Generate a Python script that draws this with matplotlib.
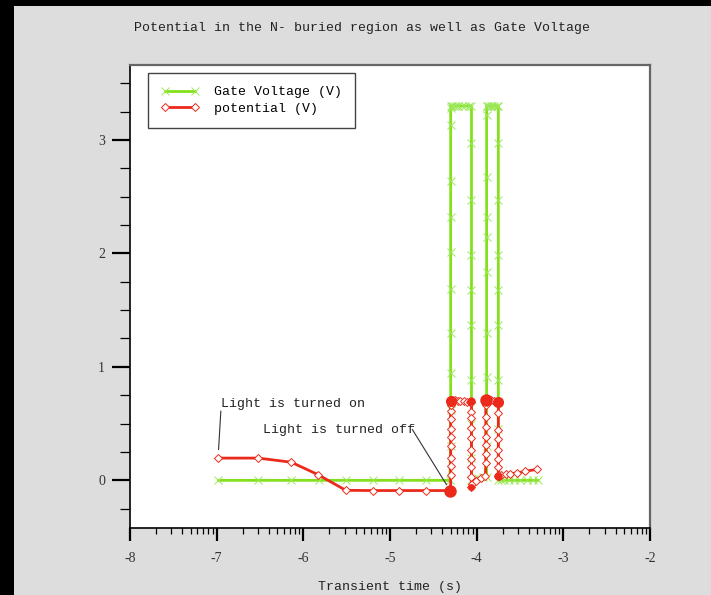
import numpy as np
import matplotlib
matplotlib.use("Agg")
import matplotlib.pyplot as plt
from matplotlib.patches import Rectangle

# --- data -------------------------------------------------------------
gate_t = [-6.98, -6.52, -6.14, -5.82, -5.51, -5.20, -4.90, -4.59, -4.31,
          -4.30, -4.30, -4.30, -4.30, -4.30, -4.30, -4.30, -4.30, -4.30, -4.30, -4.30,
          -4.28, -4.26, -4.24, -4.21, -4.17, -4.13, -4.09, -4.06,
          -4.06, -4.06, -4.06, -4.06, -4.06, -4.06, -4.06, -4.06, -4.06,
          -4.03, -3.98, -3.93, -3.885,
          -3.885, -3.885, -3.885, -3.885, -3.885, -3.885, -3.885, -3.885, -3.885,
          -3.88, -3.86, -3.84, -3.82, -3.80, -3.77, -3.75,
          -3.75, -3.75, -3.75, -3.75, -3.75, -3.75, -3.75, -3.75,
          -3.72, -3.68, -3.63, -3.57, -3.50, -3.42, -3.35, -3.29]
gate_v = [0.0, 0.0, 0.0, 0.0, 0.0, 0.0, 0.0, 0.0, 0.0,
          0.30, 0.62, 0.95, 1.30, 1.69, 2.01, 2.32, 2.64, 3.13, 3.28, 3.30,
          3.30, 3.30, 3.30, 3.30, 3.30, 3.30, 3.30, 3.30,
          2.97, 2.47, 1.99, 1.68, 1.37, 0.88, 0.50, 0.20, 0.0,
          0.01, 0.02, 0.03, 0.03,
          0.30, 0.91, 1.30, 1.84, 2.14, 2.32, 2.67, 3.22, 3.30,
          3.30, 3.30, 3.30, 3.30, 3.30, 3.30, 3.30,
          2.97, 2.47, 1.99, 1.68, 1.37, 0.88, 0.45, 0.0,
          0.0, 0.0, 0.0, 0.0, 0.0, 0.0, 0.0, 0.0]

pot_t = [-6.98, -6.52, -6.14, -5.83, -5.51, -5.20, -4.90, -4.59,
         -4.325, -4.318, -4.312, -4.306, -4.30,
         -4.30, -4.30, -4.30, -4.30, -4.30, -4.30, -4.30, -4.30, -4.30,
         -4.30, -4.30, -4.297, -4.292, -4.287,
         -4.28, -4.25, -4.22, -4.19, -4.15, -4.11, -4.08, -4.065, -4.06,
         -4.06, -4.06, -4.06, -4.06, -4.06, -4.06, -4.06, -4.06, -4.06,
         -4.05, -4.01, -3.95, -3.90,
         -3.895, -3.895, -3.895, -3.895, -3.895, -3.895, -3.895,
         -3.893, -3.89, -3.887, -3.884, -3.88,
         -3.86, -3.83, -3.80, -3.77, -3.757, -3.752, -3.748,
         -3.75, -3.75, -3.75, -3.75, -3.75, -3.75,
         -3.75, -3.747, -3.744, -3.74,
         -3.72, -3.66, -3.61, -3.53, -3.44, -3.30]
pot_v = [0.196, 0.196, 0.16, 0.05, -0.088, -0.09, -0.09, -0.09,
         -0.09, -0.09, -0.09, -0.09, -0.085,
         0.05, 0.13, 0.20, 0.30, 0.38, 0.45, 0.54, 0.61, 0.66,
         0.69, 0.70, 0.705, 0.70, 0.705,
         0.70, 0.705, 0.70, 0.70, 0.695, 0.69, 0.69, 0.69, 0.69,
         0.60, 0.55, 0.46, 0.37, 0.27, 0.19, 0.12, 0.03, -0.06,
         -0.035, -0.006, 0.024, 0.035,
         0.15, 0.23, 0.31, 0.38, 0.47, 0.56, 0.66,
         0.70, 0.705, 0.71, 0.70, 0.71,
         0.70, 0.71, 0.70, 0.69, 0.69, 0.695, 0.69,
         0.59, 0.44, 0.36, 0.27, 0.19, 0.12,
         0.04, 0.04, 0.042, 0.044,
         0.044, 0.053, 0.06, 0.065, 0.08, 0.097]

# switching instants where the potential samples pile up densely
pot_dense_t = [-4.31, -4.30, -4.06, -3.89, -3.75, -3.75, -4.06]
pot_dense_v = [-0.09, 0.70, 0.695, 0.705, 0.69, 0.04, -0.06]
pot_dense_size = [9, 8, 6, 9, 8, 6, 5]

x_major = [-8, -7, -6, -5, -4, -3, -2]
x_tick_labels = ["-8", "-7", "-6", "-5", "-4", "-3", "-2"]
y_major = [0, 1, 2, 3]
y_tick_labels = ["0", "1", "2", "3"]

title = "Potential in the N- buried region as well as Gate Voltage"
xlabel = "Transient time (s)"

# --- style ------------------------------------------------------------
RED = "#ec2a1c"
GREEN = "#84e01c"
GREEN_MARK = "#9ce85a"
BG = "#dddddd"
MONO = "Liberation Mono"
SERIF = "Liberation Serif"

fig = plt.figure(figsize=(7.11, 5.95), dpi=100, facecolor=BG)

# heavy dark frame along the top and left edges of the canvas
fig.patches.append(Rectangle((0, 1 - 6 / 595), 1, 6 / 595, transform=fig.transFigure,
                             facecolor="black", edgecolor="none", zorder=0))
fig.patches.append(Rectangle((0, 0), 14 / 711, 1, transform=fig.transFigure,
                             facecolor="black", edgecolor="none", zorder=0))

ax = fig.add_axes([130 / 711, 1 - 528 / 595, 520 / 711, 463 / 595])
ax.set_facecolor("white")

ax.plot(gate_t, gate_v, color=GREEN, lw=2.0, marker="x", ms=6, mew=0.7,
        mec=GREEN_MARK, label="Gate Voltage (V)", zorder=3)
ax.plot(pot_t, pot_v, color=RED, lw=2.0, marker="D", ms=4.2, mew=0.7,
        mfc="white", mec=RED, label="potential (V)", zorder=4)
for t, v, s in zip(pot_dense_t, pot_dense_v, pot_dense_size):
    ax.plot([t], [v], linestyle="none", marker="o", ms=s, color=RED, mew=0, zorder=4)

ax.set_xlim(-8, -2)
ax.set_ylim(-0.42, 3.66)

# logarithmic-style minor ticks between decades on the time axis
x_minor = [n + np.log10(k) for n in range(-8, -2) for k in range(2, 10)]
ax.set_xticks(x_major)
ax.set_xticklabels(x_tick_labels)
ax.set_xticks(x_minor, minor=True)
ax.set_yticks(y_major)
ax.set_yticklabels(y_tick_labels)
ax.set_yticks(np.arange(-0.25, 3.6, 0.25), minor=True)

ax.tick_params(axis="x", which="major", direction="out", length=9, width=1.6,
               pad=8, labelsize=10, labelcolor="#333333", color="black")
ax.tick_params(axis="x", which="minor", direction="out", length=4.5, width=0.9,
               color="black")
ax.tick_params(axis="y", which="major", direction="out", length=13, width=1.6,
               pad=5, labelsize=10, labelcolor="#333333", color="black")
ax.tick_params(axis="y", which="minor", direction="out", length=7, width=0.9,
               color="black")
for lab in ax.get_xticklabels() + ax.get_yticklabels():
    lab.set_family(SERIF)

for side in ("left", "bottom"):
    ax.spines[side].set_color("black")
    ax.spines[side].set_linewidth(1.2)
for side in ("top", "right"):
    ax.spines[side].set_color("#666666")
    ax.spines[side].set_linewidth(1.6)

ax.set_xlabel(xlabel, family=MONO, fontsize=9.5, color="#222222", labelpad=12)
fig.text(362 / 711, 1 - 28 / 595, title, family=MONO, fontsize=9.5,
         color="#222222", ha="center", va="center")

# annotations
ax.text(-6.955, 0.672, "Light is turned on", family=MONO, fontsize=9.5,
        color="#222222", ha="left", va="center", zorder=5)
ax.annotate("", xy=(pot_t[0], pot_v[0] + 0.05), xytext=(-6.95, 0.635),
            arrowprops=dict(arrowstyle="-", color="#333333", lw=0.8), zorder=5)
ax.text(-6.47, 0.44, "Light is turned off", family=MONO, fontsize=9.5,
        color="#222222", ha="left", va="center", zorder=5)
ax.annotate("", xy=(-4.33, -0.06), xytext=(-4.76, 0.47),
            arrowprops=dict(arrowstyle="-", color="#333333", lw=0.8), zorder=5)

leg = ax.legend(loc="upper left", bbox_to_anchor=(0.034, 0.983), borderaxespad=0,
                prop={"family": MONO, "size": 9.5}, handlelength=2.9,
                handletextpad=1.1, labelspacing=0.32, borderpad=1.0,
                fancybox=False, framealpha=1, numpoints=2)
leg.get_frame().set_edgecolor("#444444")
leg.get_frame().set_linewidth(1.0)

fig.savefig("out.png", dpi=100, facecolor=BG)
